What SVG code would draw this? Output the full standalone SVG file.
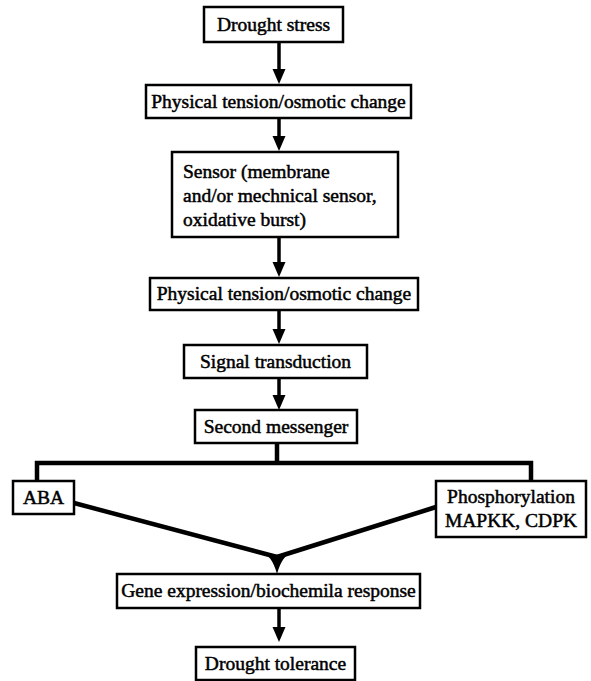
<svg xmlns="http://www.w3.org/2000/svg" width="591" height="681" viewBox="0 0 591 681">
<defs>
<style>
.box{fill:#fff;stroke:#000;stroke-width:2.5}
.t{font-size:19.5px;fill:#000;stroke:#000;stroke-width:0.5}
.c{text-anchor:middle}
.arr{stroke:#000;stroke-width:3.5;fill:none}
.con{stroke:#000;stroke-width:4.5;fill:none}
</style>
</defs>
<rect width="591" height="681" fill="#fff"/>
<g id="connectors">
<line class="arr" x1="279" y1="43" x2="279" y2="70"/>
<path d="M272.5,69 L285.5,69 L279,84 Z"/>
<line class="arr" x1="279" y1="118" x2="279" y2="137"/>
<path d="M272.5,136 L285.5,136 L279,151 Z"/>
<line class="arr" x1="279" y1="238" x2="279" y2="263"/>
<path d="M272.5,262 L285.5,262 L279,277 Z"/>
<line class="arr" x1="279" y1="311" x2="279" y2="330"/>
<path d="M272.5,329 L285.5,329 L279,344 Z"/>
<line class="arr" x1="279" y1="378" x2="279" y2="396"/>
<path d="M272.5,395 L285.5,395 L279,410 Z"/>
<polyline class="con" points="277,443 277,463"/>
<polyline class="con" points="37,481 37,463 531,463 531,481"/>
<line class="con" x1="74" y1="503" x2="277" y2="557"/>
<line class="con" x1="436" y1="507" x2="277" y2="557"/>
<path d="M260,551 Q272,555 277,574 Q282,555 294,551 L277,555 Z"/>
<line class="arr" x1="279" y1="609" x2="279" y2="628"/>
<path d="M272.5,627 L285.5,627 L279,642 Z"/>
</g>
<g font-family="'Liberation Serif', 'Times New Roman', Times, serif">
<g id="drought-stress">
<rect class="box" x="204" y="7" width="139" height="35"/>
<text class="t c" x="273.5" y="31">Drought stress</text>
</g>
<g id="physical-tension-1">
<rect class="box" x="146" y="85" width="265" height="33"/>
<text class="t c" x="278.5" y="108">Physical tension/osmotic change</text>
</g>
<g id="sensor">
<rect class="box" x="172" y="152" width="226" height="85"/>
<text class="t" x="183" y="178">Sensor (membrane</text>
<text class="t" x="183" y="202">and/or mechnical sensor,</text>
<text class="t" x="183" y="226">oxidative burst)</text>
</g>
<g id="physical-tension-2">
<rect class="box" x="150" y="278" width="268" height="32"/>
<text class="t c" x="284" y="300">Physical tension/osmotic change</text>
</g>
<g id="signal-transduction">
<rect class="box" x="184" y="345" width="183" height="33"/>
<text class="t c" x="275.5" y="368">Signal transduction</text>
</g>
<g id="second-messenger">
<rect class="box" x="195" y="410" width="162" height="33"/>
<text class="t c" x="276" y="433">Second messenger</text>
</g>
<g id="aba">
<rect class="box" x="13" y="481" width="61" height="33"/>
<text class="t c" x="43.5" y="504">ABA</text>
</g>
<g id="phosphorylation">
<rect class="box" x="436" y="481" width="150" height="56"/>
<text class="t c" x="511" y="503">Phosphorylation</text>
<text class="t c" x="511" y="527">MAPKK, CDPK</text>
</g>
<g id="gene-expression">
<rect class="box" x="117" y="574" width="303" height="34"/>
<text class="t c" x="268.5" y="597">Gene expression/biochemila response</text>
</g>
<g id="drought-tolerance">
<rect class="box" x="196" y="647" width="159" height="33"/>
<text class="t c" x="275.5" y="670">Drought tolerance</text>
</g>
</g>
</svg>
